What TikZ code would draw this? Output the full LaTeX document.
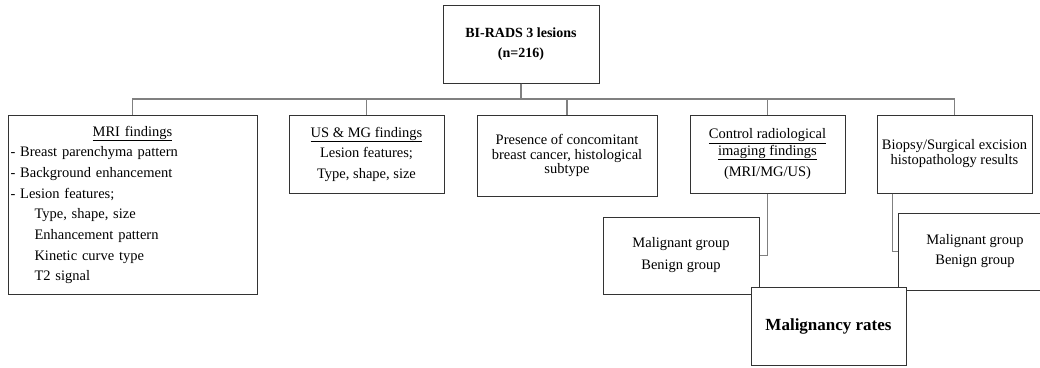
\documentclass[tikz,border=0pt]{standalone}
\usepackage{fontspec}
\setmainfont{Liberation Serif}
\definecolor{boxc}{HTML}{333333}
\definecolor{linec}{HTML}{808080}
\begin{document}
\begin{tikzpicture}[x=1pt,y=-1pt,
  box/.style={draw=boxc, line width=1pt, fill=white, inner sep=0pt, align=center,
    font=\fontsize{14.5}{20.5}\selectfont},
  conn/.style={draw=linec, line width=1.2pt}]
\clip (0,0) rectangle (1040,367);
\fill[white] (0,0) rectangle (1040,367);
\coordinate (bus) at (0,99);

\node[box, minimum width=156pt, minimum height=78pt,
  font=\bfseries\fontsize{14}{20}\selectfont] (top) at (521,44) {BI-RADS 3 lesions\\(n=216)};

\node[box, minimum width=249pt, minimum height=179pt, text width=244pt, align=left,
  font=\fontsize{14.5}{20.7}\selectfont] (mri) at (132.5,205)
  {\makebox[244pt]{\underline{MRI findings}}\\
   - Breast parenchyma pattern\\
   - Background enhancement\\
   - Lesion features;\\
   \hspace*{24pt}Type, shape, size\\
   \hspace*{24pt}Enhancement pattern\\
   \hspace*{24pt}Kinetic curve type\\
   \hspace*{24pt}T2 signal};

\node[box, minimum width=155pt, minimum height=78pt] (us) at (366.5,154)
  {\underline{US \& MG findings}\\Lesion features;\\Type, shape, size};

\node[box, minimum width=180pt, minimum height=81pt,
  font=\fontsize{14.5}{14.5}\selectfont] (pres) at (567,155.5)
  {Presence of concomitant\\breast cancer, histological\\subtype};

\node[box, minimum width=155pt, minimum height=78pt,
  font=\fontsize{14.5}{15}\selectfont] (ctrl) at (767.5,154)
  {\underline{Control radiological}\\\underline{imaging findings}\\[5pt](MRI/MG/US)};

\node[box, minimum width=155pt, minimum height=78pt,
  font=\fontsize{14.5}{15}\selectfont] (bio) at (954.5,154)
  {Biopsy/Surgical excision\\histopathology results};

\foreach \c in {mri,us,pres,ctrl,bio}
  \draw[conn] (top.south) -- (top.south |- bus) -| (\c.north);

\node[box, minimum width=156pt, minimum height=77pt,
  font=\fontsize{14.5}{22}\selectfont] (mgl) at (681,255.5)
  {Malignant group\\Benign group};

\node[box, minimum width=154pt, minimum height=77pt,
  font=\fontsize{14.5}{20}\selectfont] (mgr) at (975,251.5)
  {Malignant group\\Benign group};

\draw[conn] (ctrl.south) |- (mgl.east);
\draw[conn] ([xshift=16pt]bio.south west) |- (mgr.west);

\node[box, minimum width=155pt, minimum height=78pt,
  font=\bfseries\fontsize{17}{20}\selectfont] (mr) at (828.5,326) {Malignancy rates};
\end{tikzpicture}
\end{document}
